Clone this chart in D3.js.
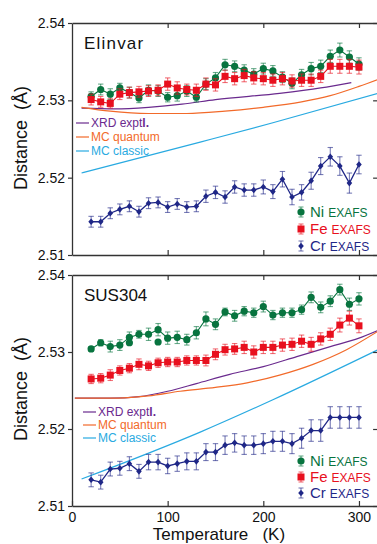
<!DOCTYPE html>
<html>
<head>
<meta charset="utf-8">
<script src="https://cdn.jsdelivr.net/npm/d3@7"></script>
<style>
  body { margin: 0; background: #fff; }
  svg { display: block; font-family: "Liberation Sans", Arial, sans-serif; }
</style>
</head>
<body>
<svg id="chart" width="377" height="544"></svg>
<script>
// temperatures (K)
const temps = [20, 30, 40, 50, 60, 70, 80, 90, 100, 110, 120, 130, 140, 150, 160,
  170, 180, 190, 200, 210, 220, 230, 240, 250, 260, 270, 280, 290, 300];

const xTicks = [0, 100, 200, 300];
const yTicks = [2.51, 2.52, 2.53, 2.54];

// Elinvar EXAFS distances (Å)
const elinvarNi = [2.5305, 2.5314, 2.5308, 2.5316, 2.5310, 2.5303, 2.5313, 2.5312, 2.5304, 2.5306,
  2.5312, 2.5304, 2.5321, 2.5329, 2.5346, 2.5344, 2.5339, 2.5334, 2.5341, 2.5338,
  2.5330, 2.5322, 2.5333, 2.5341, 2.5344, 2.5357, 2.5365, 2.5356, 2.5347];
const elinvarNiErr = [0.0006, 0.0007, 0.0007, 0.0006, 0.0007, 0.0006, 0.0007, 0.0007, 0.0006, 0.0007,
  0.0007, 0.0006, 0.0007, 0.0007, 0.0007, 0.0007, 0.0007, 0.0007, 0.0007, 0.0007,
  0.0007, 0.0007, 0.0007, 0.0008, 0.0008, 0.0008, 0.0009, 0.0008, 0.0008];
const elinvarFe = [2.5301, 2.5298, 2.5296, 2.5308, 2.5310, 2.5311, 2.5312, 2.5313, 2.5321, 2.5316,
  2.5314, 2.5313, 2.5321, 2.5320, 2.5331, 2.5328, 2.5332, 2.5329, 2.5328, 2.5326,
  2.5328, 2.5325, 2.5326, 2.5326, 2.5331, 2.5344, 2.5344, 2.5344, 2.5343];
const elinvarFeErr = [0.0007, 0.0007, 0.0006, 0.0007, 0.0007, 0.0007, 0.0007, 0.0007, 0.0008, 0.0008,
  0.0007, 0.0008, 0.0008, 0.0008, 0.0008, 0.0008, 0.0008, 0.0008, 0.0008, 0.0008,
  0.0008, 0.0008, 0.0008, 0.0008, 0.0008, 0.0009, 0.0009, 0.0009, 0.0009];
const elinvarCr = [2.5143, 2.5143, 2.5154, 2.5159, 2.5163, 2.5156, 2.5167, 2.5168, 2.5162, 2.5166,
  2.5162, 2.5163, 2.5176, 2.5181, 2.5175, 2.5188, 2.5184, 2.5184, 2.5188, 2.5182,
  2.5198, 2.5175, 2.5181, 2.5196, 2.5215, 2.5227, 2.5215, 2.5193, 2.5217];
const elinvarCrErr = [0.0007, 0.0007, 0.0007, 0.0007, 0.0007, 0.0007, 0.0007, 0.0007, 0.0007, 0.0007,
  0.0007, 0.0007, 0.0008, 0.0008, 0.0008, 0.0008, 0.0008, 0.0008, 0.0009, 0.0009,
  0.0010, 0.0010, 0.0010, 0.0011, 0.0011, 0.0012, 0.0012, 0.0013, 0.0012];

// Elinvar model curves [T, distance]
const elinvarXrd = [[10, 2.5290], [45, 2.5289], [80, 2.5291], [115, 2.5295], [150, 2.5301],
  [217, 2.5309], [260, 2.5316], [292, 2.5323]];
const elinvarMcq = [[10, 2.5291], [40, 2.5286], [80, 2.5283], [120, 2.5283], [160, 2.5286],
  [200, 2.5291], [240, 2.5298], [270, 2.5306], [300, 2.5318], [320, 2.5327]];
const elinvarMcc = [[10, 2.5206], [134, 2.5246], [210, 2.5271], [320, 2.5309]];

// SUS304 EXAFS distances (Å)
const sus304Ni = [2.5304, 2.5312, 2.5307, 2.5309, 2.5319, 2.5323, 2.5323, 2.5329, 2.5318, 2.5319,
  2.5316, 2.5325, 2.5343, 2.5336, 2.5352, 2.5347, 2.5353, 2.5351, 2.5359, 2.5348,
  2.5351, 2.5351, 2.5355, 2.5371, 2.5358, 2.5366, 2.5381, 2.5362, 2.5369];
const sus304NiErr = [0.0003, 0.0004, 0.0007, 0.0007, 0.0007, 0.0005, 0.0008, 0.0008, 0.0008, 0.0008,
  0.0007, 0.0008, 0.0009, 0.0007, 0.0005, 0.0007, 0.0006, 0.0006, 0.0007, 0.0006,
  0.0006, 0.0006, 0.0006, 0.0007, 0.0007, 0.0007, 0.0007, 0.0008, 0.0008];
const sus304NiExtra = [[60, 2.5312], [90, 2.5313]];
const sus304Fe = [2.5265, 2.5266, 2.5270, 2.5276, 2.5279, 2.5284, 2.5282, 2.5286, 2.5287, 2.5287,
  2.5289, 2.5289, 2.5289, 2.5297, 2.5303, 2.5304, 2.5306, 2.5300, 2.5306, 2.5306,
  2.5309, 2.5310, 2.5314, 2.5310, 2.5317, 2.5323, 2.5335, 2.5344, 2.5334];
const sus304FeErr = [0.0006, 0.0006, 0.0007, 0.0006, 0.0006, 0.0007, 0.0006, 0.0006, 0.0006, 0.0006,
  0.0006, 0.0006, 0.0007, 0.0007, 0.0007, 0.0007, 0.0008, 0.0008, 0.0008, 0.0008,
  0.0008, 0.0008, 0.0008, 0.0009, 0.0008, 0.0008, 0.0009, 0.0009, 0.0009];
const sus304Cr = [2.5134, 2.5131, 2.5148, 2.5149, 2.5155, 2.5145, 2.5157, 2.5157, 2.5152, 2.5155,
  2.5158, 2.5158, 2.5170, 2.5170, 2.5179, 2.5182, 2.5179, 2.5179, 2.5181, 2.5184,
  2.5184, 2.5181, 2.5188, 2.5198, 2.5198, 2.5215, 2.5215, 2.5215, 2.5215];
const sus304CrErr = [0.0009, 0.0009, 0.0009, 0.0009, 0.0009, 0.0009, 0.0010, 0.0010, 0.0010, 0.0010,
  0.0011, 0.0011, 0.0011, 0.0011, 0.0012, 0.0012, 0.0012, 0.0012, 0.0013, 0.0013,
  0.0013, 0.0013, 0.0013, 0.0014, 0.0014, 0.0014, 0.0014, 0.0014, 0.0014];

// SUS304 model curves [T, distance]
const sus304Xrd = [[3, 2.5240], [40, 2.5240], [70, 2.5242], [100, 2.5249], [130, 2.5259],
  [165, 2.5271], [200, 2.5281], [235, 2.5294], [270, 2.5307], [300, 2.5318], [320, 2.5328]];
const sus304Mcq = [[3, 2.5240], [40, 2.5240], [80, 2.5243], [113, 2.5249], [150, 2.5254],
  [183, 2.5260], [217, 2.5270], [252, 2.5284], [287, 2.5303], [320, 2.5327]];
const sus304Mcc = [[10, 2.5135], [134, 2.5196], [210, 2.5238], [320, 2.5303]];

const colors = {
  ni: "#08743f", fe: "#e8101e", cr: "#1f2787",
  xrd: "#6a2a8e", mcq: "#f26a2a", mcc: "#29aae1",
  axis: "#333"
};

const svg = d3.select("#chart");
const x = d3.scaleLinear().domain([0, 320]).range([72, 378.1]);

const panels = [
  {
    key: "elinvar", label: "Elinvar", spacing: 1.2, top: 23, bottom: 255,
    ni: elinvarNi, niErr: elinvarNiErr, fe: elinvarFe, feErr: elinvarFeErr,
    cr: elinvarCr, crErr: elinvarCrErr, extraNi: [],
    xrd: elinvarXrd, mcq: elinvarMcq, mcc: elinvarMcc,
    lineLegend: { x: 76, ys: [123, 137, 151] },
    seriesLegend: [212, 229, 246], showX: false, yLabel: 138
  },
  {
    key: "sus304", label: "SUS304", spacing: 0, top: 275, bottom: 506,
    ni: sus304Ni, niErr: sus304NiErr, fe: sus304Fe, feErr: sus304FeErr,
    cr: sus304Cr, crErr: sus304CrErr, extraNi: sus304NiExtra,
    xrd: sus304Xrd, mcq: sus304Mcq, mcc: sus304Mcc,
    lineLegend: { x: 83, ys: [412, 425, 438] },
    seriesLegend: [461, 477, 493], showX: true, yLabel: 389
  }
];

function marker(sel, shape, color) {
  if (shape === "circle") {
    sel.append("circle").attr("r", 3.6).attr("fill", color);
  } else if (shape === "square") {
    sel.append("rect").attr("x", -3.5).attr("y", -3.5).attr("width", 7).attr("height", 7).attr("fill", color);
  } else {
    sel.append("path").attr("d", "M0,-3.3L2.8,0L0,3.3L-2.8,0Z").attr("fill", color);
  }
}

function styleAxis(a) {
  a.attr("font-family", null).attr("font-size", null);
  a.select(".domain").attr("stroke", colors.axis).attr("stroke-width", 1.3);
  a.selectAll(".tick line").attr("stroke", colors.axis).attr("stroke-width", 1.2);
  a.selectAll(".tick text").attr("fill", "#111").style("font-size", "14px");
}

function drawSeries(g, y, vals, errs, color, shape) {
  const pts = temps.map((t, i) => ({ t: t, v: vals[i], e: errs[i] }));
  const s = g.append("g");

  s.append("path")
    .datum(pts)
    .attr("fill", "none")
    .attr("stroke", color)
    .attr("stroke-width", shape === "diamond" ? 1.3 : 1.1)
    .attr("d", d3.line().x(d => x(d.t)).y(d => y(d.v)));

  const bars = s.selectAll(".err")
    .data(pts)
    .enter()
    .append("g")
    .attr("stroke", color)
    .attr("stroke-opacity", 0.6)
    .attr("stroke-width", 1.1);
  bars.append("line")
    .attr("x1", d => x(d.t)).attr("x2", d => x(d.t))
    .attr("y1", d => y(d.v - d.e)).attr("y2", d => y(d.v + d.e));
  bars.append("line")
    .attr("x1", d => x(d.t) - 2.7).attr("x2", d => x(d.t) + 2.7)
    .attr("y1", d => y(d.v - d.e)).attr("y2", d => y(d.v - d.e));
  bars.append("line")
    .attr("x1", d => x(d.t) - 2.7).attr("x2", d => x(d.t) + 2.7)
    .attr("y1", d => y(d.v + d.e)).attr("y2", d => y(d.v + d.e));

  s.selectAll(".pt")
    .data(pts)
    .enter()
    .append("g")
    .attr("transform", d => "translate(" + x(d.t) + "," + y(d.v) + ")")
    .each(function () { marker(d3.select(this), shape, color); });
}

function drawPanel(p) {
  const y = d3.scaleLinear().domain([2.51, 2.54]).range([p.bottom, p.top]);
  const g = svg.append("g");

  svg.append("clipPath").attr("id", "clip-" + p.key)
    .append("rect")
    .attr("x", 72).attr("y", p.top)
    .attr("width", 306).attr("height", p.bottom - p.top);

  // model curves
  const curve = d3.line().x(d => x(d[0])).y(d => y(d[1])).curve(d3.curveMonotoneX);
  const models = g.append("g").attr("clip-path", "url(#clip-" + p.key + ")");
  [[p.xrd, colors.xrd], [p.mcq, colors.mcq], [p.mcc, colors.mcc]].forEach(m => {
    models.append("path")
      .datum(m[0])
      .attr("fill", "none")
      .attr("stroke", m[1])
      .attr("stroke-width", 1.2)
      .attr("d", curve);
  });

  // EXAFS series
  drawSeries(g, y, p.ni, p.niErr, colors.ni, "circle");
  g.selectAll(".extra")
    .data(p.extraNi)
    .enter()
    .append("circle")
    .attr("cx", d => x(d[0]))
    .attr("cy", d => y(d[1]))
    .attr("r", 3.6)
    .attr("fill", colors.ni);
  drawSeries(g, y, p.fe, p.feErr, colors.fe, "square");
  drawSeries(g, y, p.cr, p.crErr, colors.cr, "diamond");

  // frame and ticks
  styleAxis(g.append("g")
    .attr("transform", "translate(72,0)")
    .call(d3.axisLeft(y).tickValues(yTicks).tickSize(4).tickSizeOuter(0).tickPadding(3)
      .tickFormat(d3.format(".2f"))));
  styleAxis(g.append("g")
    .attr("transform", "translate(378.1,0)")
    .call(d3.axisRight(y).tickValues(yTicks).tickSize(-5).tickSizeOuter(0).tickFormat("")));
  styleAxis(g.append("g")
    .attr("transform", "translate(0," + p.top + ")")
    .call(d3.axisTop(x).tickValues([100, 200, 300]).tickSize(-5).tickSizeOuter(0).tickFormat("")));
  const bottomAxis = d3.axisBottom(x).tickSize(-5).tickSizeOuter(0).tickPadding(6);
  if (p.showX) {
    bottomAxis.tickValues(xTicks);
  } else {
    bottomAxis.tickValues([100, 200, 300]).tickFormat("");
  }
  styleAxis(g.append("g")
    .attr("transform", "translate(0," + p.bottom + ")")
    .call(bottomAxis));

  // panel title
  g.append("text")
    .attr("x", 84).attr("y", p.top + 26)
    .attr("font-size", 17)
    .attr("letter-spacing", p.spacing)
    .attr("fill", "#111")
    .text(p.label);

  // y label
  g.append("text")
    .attr("transform", "translate(27," + p.yLabel + ") rotate(-90)")
    .attr("text-anchor", "middle")
    .attr("font-size", 18)
    .attr("fill", "#111")
    .attr("xml:space", "preserve")
    .text("Distance  (Å)");

  // curve legend
  const lineNames = [["XRD expt", colors.xrd], ["MC quantum", colors.mcq], ["MC classic", colors.mcc]];
  lineNames.forEach((n, i) => {
    const ly = p.lineLegend.ys[i];
    g.append("line")
      .attr("x1", p.lineLegend.x).attr("x2", p.lineLegend.x + 13)
      .attr("y1", ly).attr("y2", ly)
      .attr("stroke", n[1]).attr("stroke-width", 1.2);
    const t = g.append("text")
      .attr("x", p.lineLegend.x + 15).attr("y", ly + 4.3)
      .attr("font-size", 12)
      .attr("fill", n[1])
      .text(n[0]);
    if (i === 0) t.append("tspan").attr("font-weight", "bold").text("l.");
  });

  // EXAFS legend
  const seriesNames = [["Ni", colors.ni, "circle"], ["Fe", colors.fe, "square"], ["Cr", colors.cr, "diamond"]];
  seriesNames.forEach((n, i) => {
    const ly = p.seriesLegend[i];
    const m = g.append("g").attr("transform", "translate(301," + ly + ")");
    m.append("line").attr("y1", -5).attr("y2", 5)
      .attr("stroke", n[1]).attr("stroke-opacity", 0.6).attr("stroke-width", 1.1);
    m.append("line").attr("x1", -2.5).attr("x2", 2.5).attr("y1", -5).attr("y2", -5)
      .attr("stroke", n[1]).attr("stroke-opacity", 0.6).attr("stroke-width", 1.1);
    m.append("line").attr("x1", -2.5).attr("x2", 2.5).attr("y1", 5).attr("y2", 5)
      .attr("stroke", n[1]).attr("stroke-opacity", 0.6).attr("stroke-width", 1.1);
    marker(m, n[2], n[1]);
    const t = g.append("text")
      .attr("x", 310).attr("y", ly + 5.2)
      .attr("font-size", 15)
      .attr("fill", n[1])
      .text(n[0]);
    t.append("tspan").attr("dx", 4).attr("font-size", 12).text("EXAFS");
  });
}

panels.forEach(drawPanel);

// x label
svg.append("text")
  .attr("x", 219).attr("y", 540)
  .attr("text-anchor", "middle")
  .attr("font-size", 17)
  .attr("fill", "#111")
  .attr("xml:space", "preserve")
  .text("Temperature   (K)");
</script>
</body>
</html>
